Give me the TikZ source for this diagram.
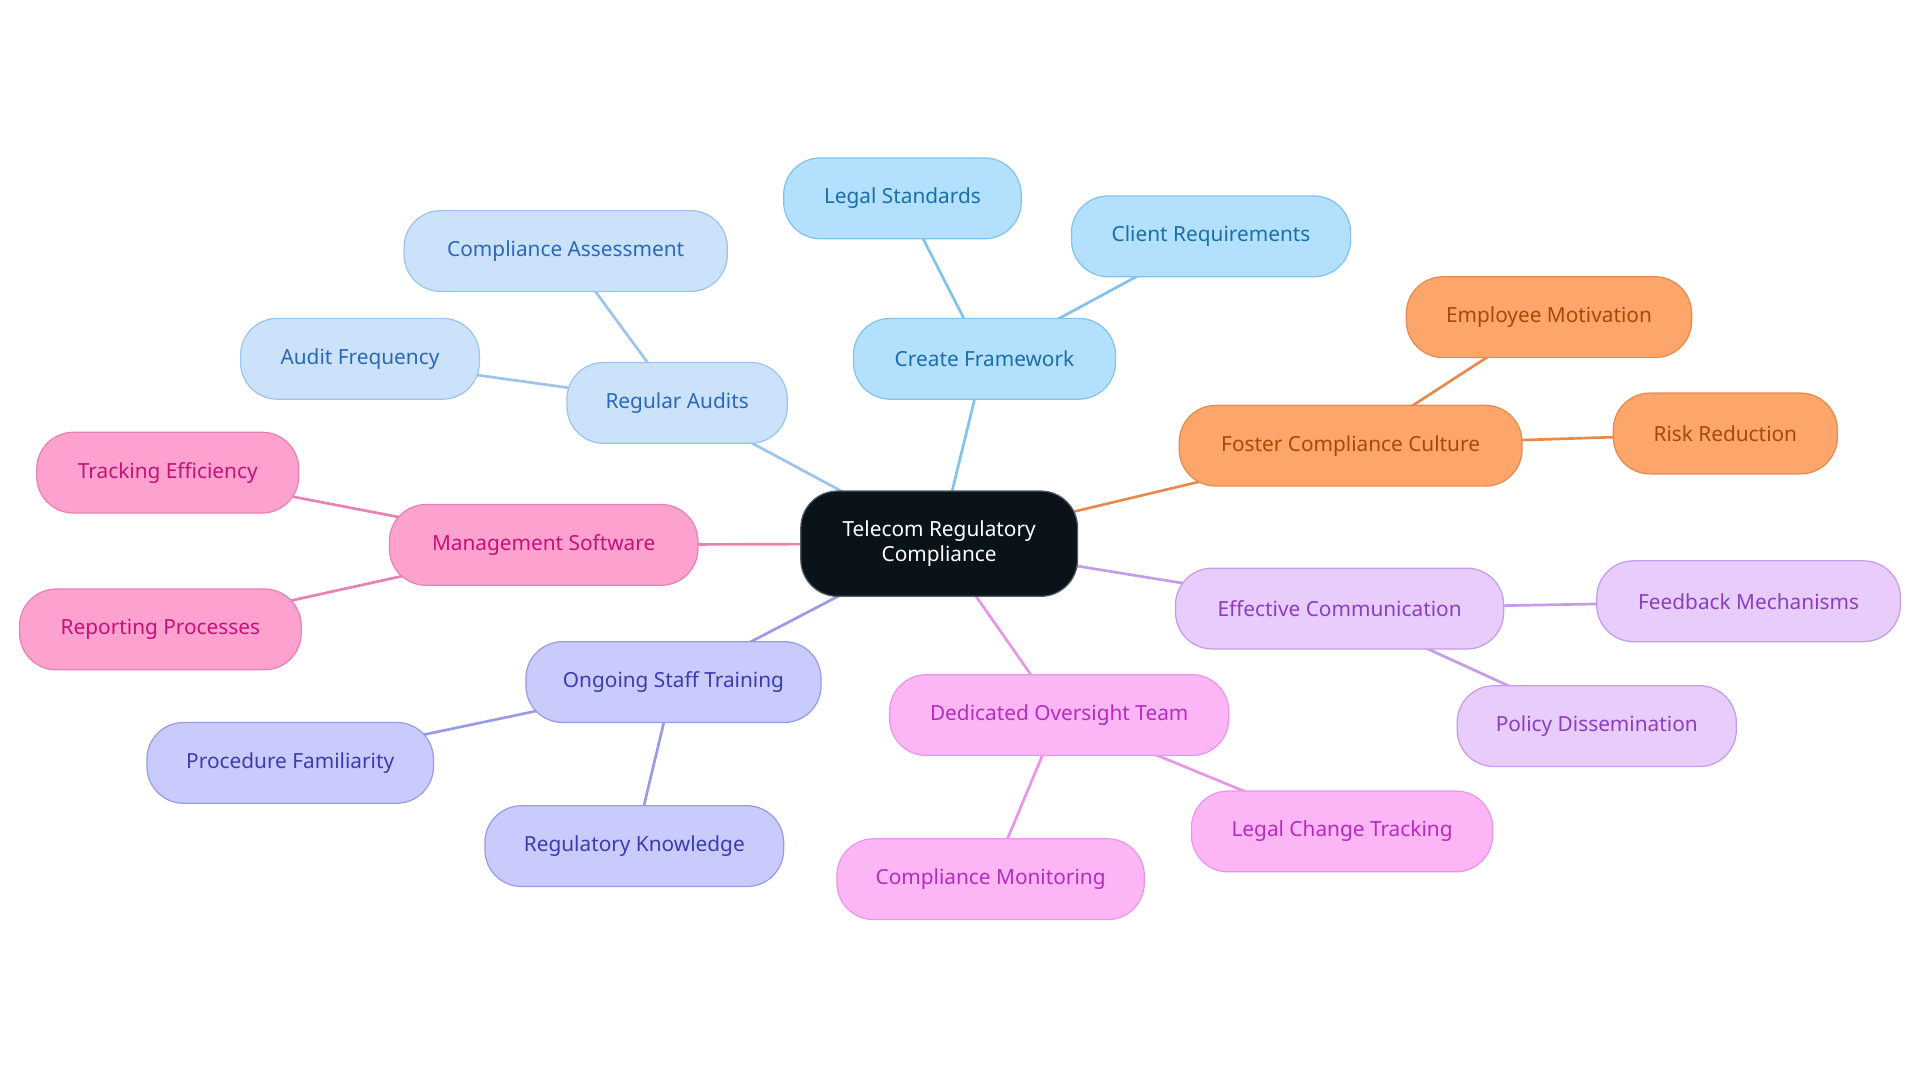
\documentclass[tikz,border=0pt]{standalone}
\usepackage{fontspec}
\setmainfont{Noto Sans}
\pgfdeclarelayer{background}\pgfsetlayers{background,main}
\definecolor{bF}{HTML}{B3E0FD}\definecolor{bD}{HTML}{80C4EE}\definecolor{bT}{HTML}{1A6FA8}
\definecolor{aF}{HTML}{CCE2FB}\definecolor{aD}{HTML}{9CC4EE}\definecolor{aT}{HTML}{2A68B8}
\definecolor{oF}{HTML}{FDA66C}\definecolor{oD}{HTML}{E88A4D}\definecolor{oT}{HTML}{A84A05}
\definecolor{pF}{HTML}{FDA2CF}\definecolor{pD}{HTML}{E882B4}\definecolor{pT}{HTML}{C8107A}
\definecolor{vF}{HTML}{E8CCFB}\definecolor{vD}{HTML}{C59BEA}\definecolor{vT}{HTML}{8A3EC0}
\definecolor{iF}{HTML}{C9CBFD}\definecolor{iD}{HTML}{9A9BE6}\definecolor{iT}{HTML}{3C3CB0}
\definecolor{mF}{HTML}{FDB6F5}\definecolor{mD}{HTML}{E896E6}\definecolor{mT}{HTML}{B52CC0}
\definecolor{cF}{HTML}{0B131A}
\tikzset{
 box/.style={rounded corners=30, minimum height=66, font=\fontsize{17}{20}\selectfont, inner sep=0, line width=1pt},
 B/.style={box,fill=bF,draw=bD,text=bT}, A/.style={box,fill=aF,draw=aD,text=aT},
 O/.style={box,fill=oF,draw=oD,text=oT}, P/.style={box,fill=pF,draw=pD,text=pT},
 V/.style={box,fill=vF,draw=vD,text=vT}, I/.style={box,fill=iF,draw=iD,text=iT},
 M/.style={box,fill=mF,draw=mD,text=mT},
 e/.style={line width=2.2pt}
}
\begin{document}
\begin{tikzpicture}[x=1pt,y=-1pt]
\useasboundingbox (0,0) rectangle (1568,884);
\node[box,fill=cF,draw=cF!70,text=white,minimum width=226,minimum height=86,align=center,font=\fontsize{17}{20}\selectfont] (c) at (767,444) {Telecom Regulatory\\Compliance};
\node[B,minimum width=214] (cf) at (804,293) {Create Framework};
\node[B,minimum width=194] (ls) at (737,162) {Legal Standards};
\node[B,minimum width=228] (cr) at (989,193) {Client Requirements};
\node[A,minimum width=180] (ra) at (553,329) {Regular Audits};
\node[A,minimum width=264] (ca) at (462,205) {Compliance Assessment};
\node[A,minimum width=195] (af) at (294,293) {Audit Frequency};
\node[O,minimum width=280] (fc) at (1103,364) {Foster Compliance Culture};
\node[O,minimum width=233] (em) at (1265,259) {Employee Motivation};
\node[O,minimum width=183] (rr) at (1409,354) {Risk Reduction};
\node[P,minimum width=252] (ms) at (444,445) {Management Software};
\node[P,minimum width=214] (te) at (137,386) {Tracking Efficiency};
\node[P,minimum width=230] (rp) at (131,514) {Reporting Processes};
\node[V,minimum width=268] (ec) at (1094,497) {Effective Communication};
\node[V,minimum width=248] (fm) at (1428,491) {Feedback Mechanisms};
\node[V,minimum width=228] (pd) at (1304,593) {Policy Dissemination};
\node[I,minimum width=241] (st) at (550,557) {Ongoing Staff Training};
\node[I,minimum width=234] (pf) at (237,623) {Procedure Familiarity};
\node[I,minimum width=244] (rk) at (518,691) {Regulatory Knowledge};
\node[M,minimum width=277] (ot) at (865,584) {Dedicated Oversight Team};
\node[M,minimum width=246] (lc) at (1096,679) {Legal Change Tracking};
\node[M,minimum width=251] (cm) at (809,718) {Compliance Monitoring};
\begin{pgfonlayer}{background}
\draw[e,bD] (c.center)--(cf.center) (cf.center)--(ls.center) (cf.center)--(cr.center);
\draw[e,aD] (c.center)--(ra.center) (ra.center)--(ca.center) (ra.center)--(af.center);
\draw[e,oD] (c.center)--(fc.center) (fc.center)--(em.center) (fc.center)--(rr.center);
\draw[e,pD] (c.center)--(ms.center) (ms.center)--(te.center) (ms.center)--(rp.center);
\draw[e,vD] (c.center)--(ec.center) (ec.center)--(fm.center) (ec.center)--(pd.center);
\draw[e,iD] (c.center)--(st.center) (st.center)--(pf.center) (st.center)--(rk.center);
\draw[e,mD] (c.center)--(ot.center) (ot.center)--(lc.center) (ot.center)--(cm.center);
\end{pgfonlayer}
\end{tikzpicture}
\end{document}
